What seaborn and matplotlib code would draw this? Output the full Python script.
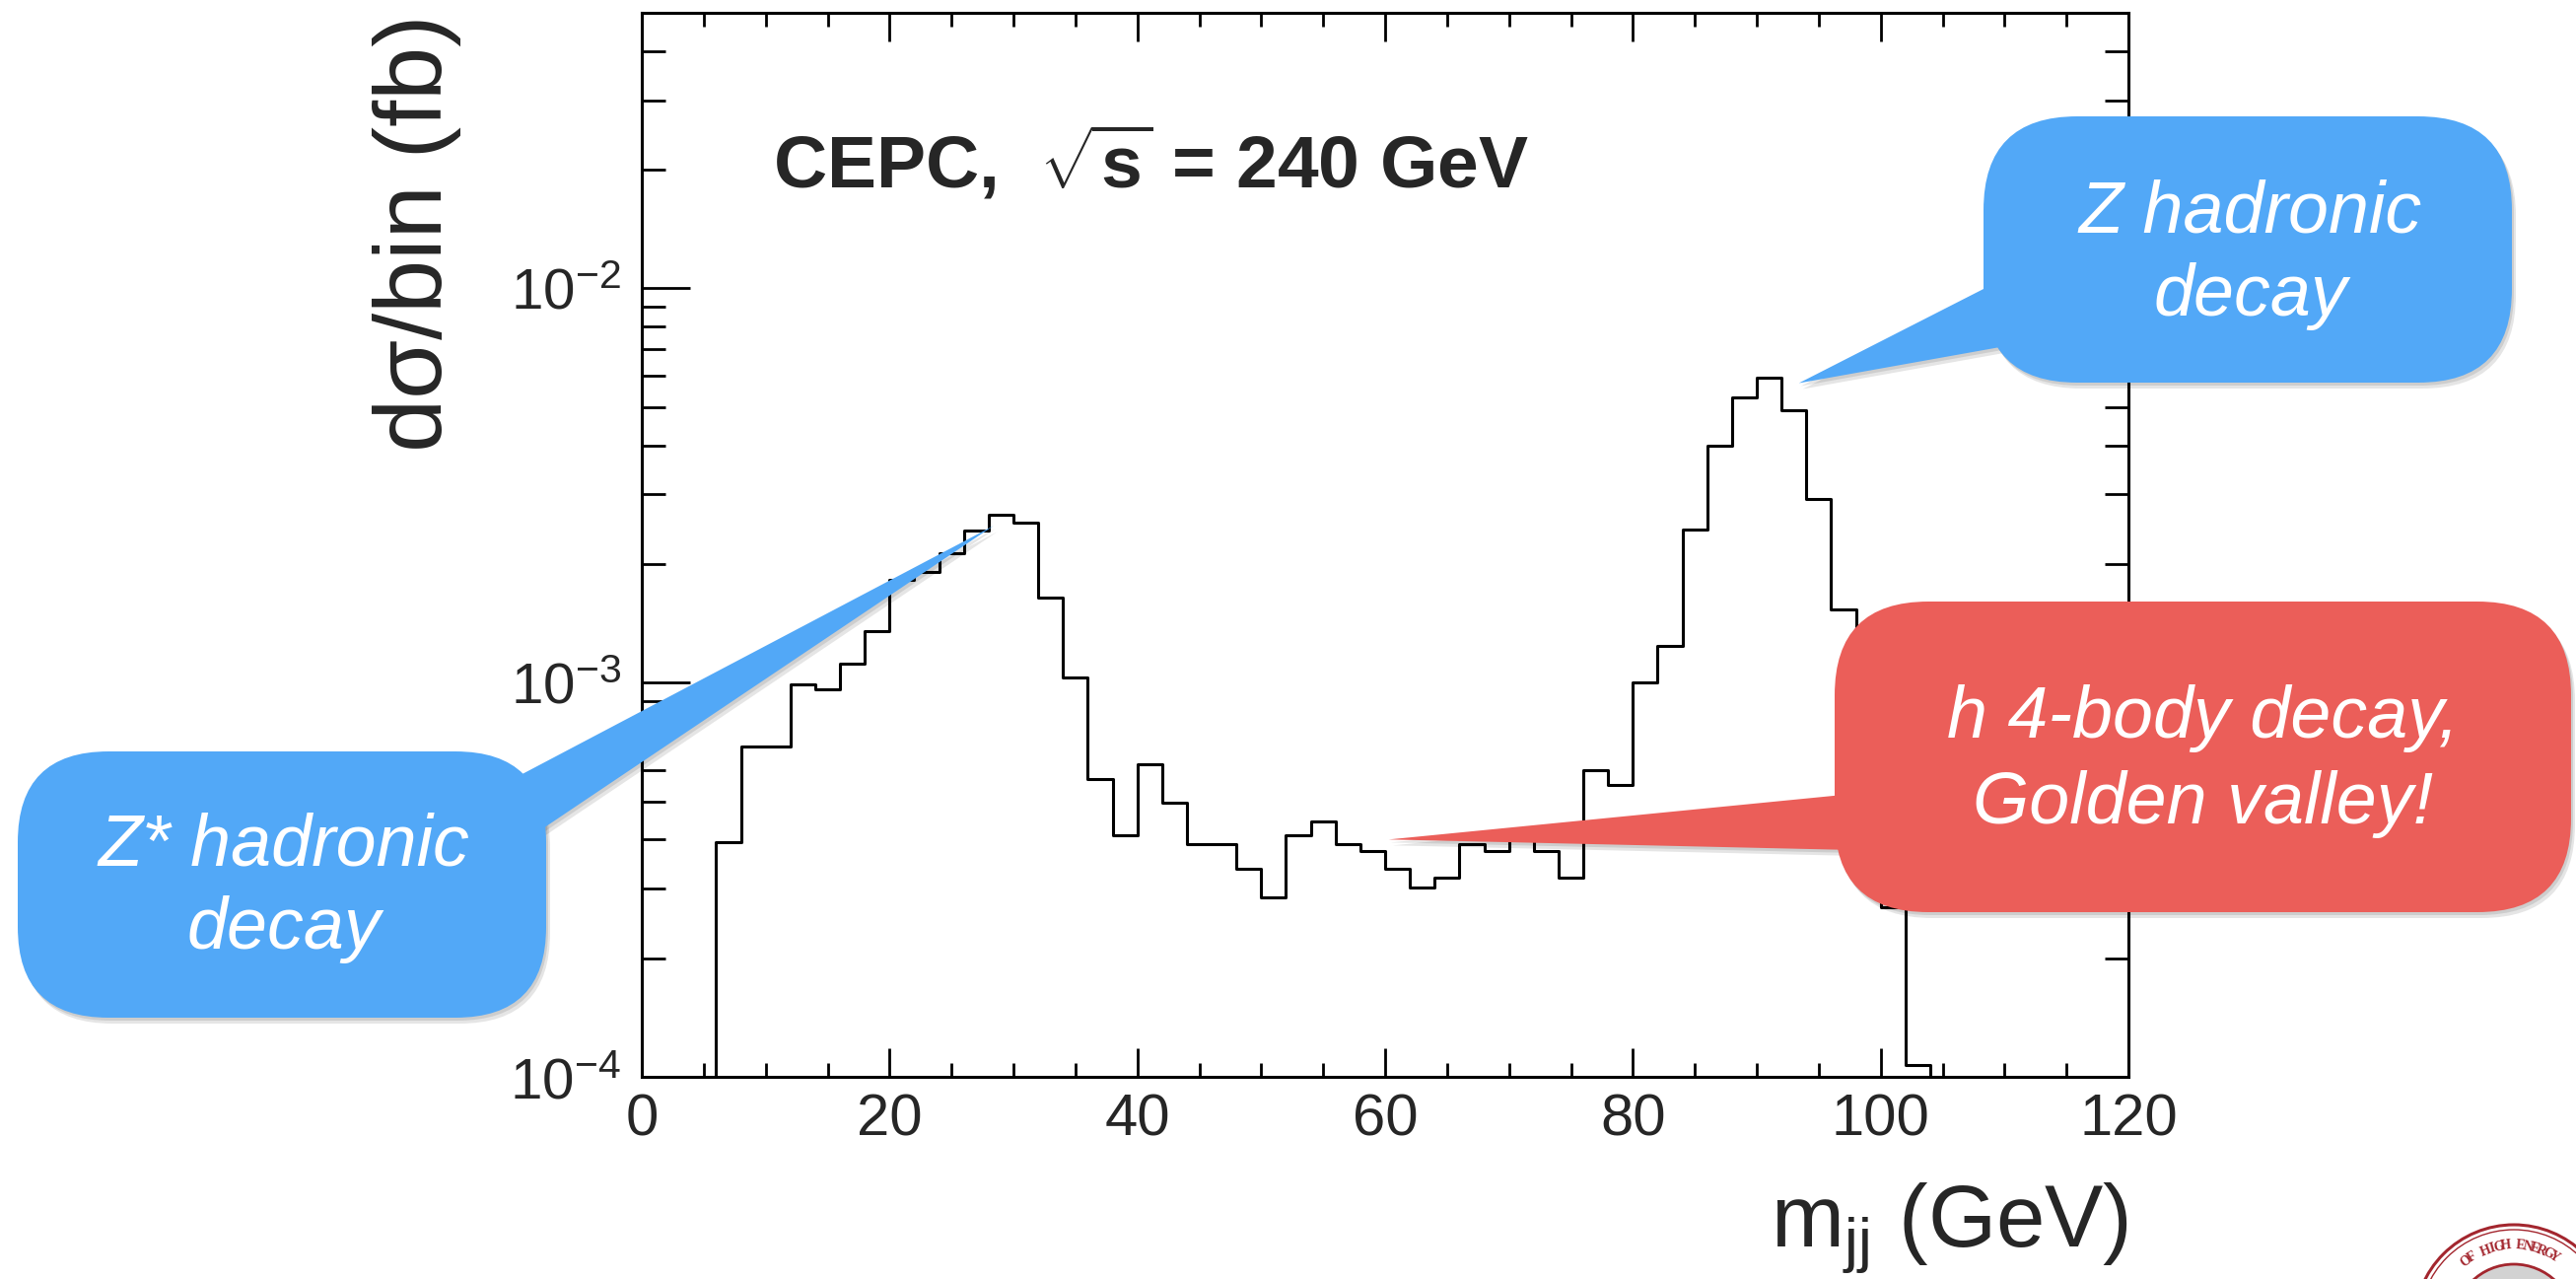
import numpy as np
import pandas as pd
import matplotlib
matplotlib.use("Agg")
import matplotlib.pyplot as plt
import seaborn as sns
from matplotlib.patches import FancyBboxPatch, Polygon, Circle
from matplotlib.ticker import MultipleLocator, LogLocator, NullFormatter

# ---------------- data ----------------
bin_edges = np.arange(0, 122, 2)          # 2 GeV bins, 0 .. 120 GeV
dsigma_per_bin = [
    0.0, 0.0, 0.0,                         # 0-6
    3.93e-4, 6.9e-4, 6.9e-4, 9.9e-4, 9.6e-4,          # 6-16
    1.12e-3, 1.35e-3, 1.82e-3, 1.91e-3, 2.13e-3,      # 16-26
    2.43e-3, 2.66e-3, 2.54e-3, 1.64e-3, 1.03e-3,      # 26-36
    5.7e-4, 4.1e-4, 6.2e-4, 4.95e-4, 3.9e-4,          # 36-46
    3.9e-4, 3.38e-4, 2.85e-4, 4.1e-4, 4.45e-4,        # 46-56
    3.9e-4, 3.75e-4, 3.38e-4, 3.03e-4, 3.2e-4,        # 56-66
    3.9e-4, 3.75e-4, 4.0e-4, 3.75e-4, 3.2e-4,         # 66-76
    6.0e-4, 5.5e-4, 1.0e-3, 1.24e-3, 2.45e-3,         # 76-86
    4.0e-3, 5.3e-3, 5.95e-3, 4.9e-3, 2.93e-3,         # 86-96
    1.53e-3, 6.5e-4, 2.7e-4, 1.07e-4,                 # 96-104
    0.0, 0.0, 0.0, 0.0, 0.0, 0.0, 0.0, 0.0,           # 104-120
]
x_ticks = [0, 20, 40, 60, 80, 100, 120]
header_text = r"CEPC,  $\sqrt{\mathbf{s}}$ = 240 GeV"
y_label = "dσ/bin (fb)"
x_label = r"m$_{\mathrm{jj}}$ (GeV)"

# annotation texts and the (GeV, dσ) points they point at
z_lines = ["Z hadronic", "decay"]
z_tip = (93.4, 5.75e-3)
zstar_lines = ["Z* hadronic", "decay"]
zstar_tip = (28.4, 2.5e-3)
h_lines = ["h 4-body decay,", "Golden valley!"]
h_tip = (60.3, 4.0e-4)

# step outline: each bin edge carries the content of the bin to its right
df = pd.DataFrame({"edge": bin_edges,
                   "content": list(dsigma_per_bin) + [dsigma_per_bin[-1]]})

# ---------------- style ----------------
sns.set_style("ticks")
plt.rcParams["font.family"] = ["Liberation Sans", "DejaVu Sans"]
plt.rcParams["mathtext.fontset"] = "custom"
plt.rcParams["mathtext.rm"] = "Liberation Sans"
plt.rcParams["mathtext.it"] = "Liberation Sans:italic"
plt.rcParams["mathtext.bf"] = "Liberation Sans:bold"
plt.rcParams["axes.linewidth"] = 2.2

W, H = 2613, 1297
fig = plt.figure(figsize=(W / 100, H / 100), dpi=100)
fig.patch.set_facecolor("white")

L, R, T, B = 651, 2159, 13, 1092
ax = fig.add_axes([L / W, 1 - B / H, (R - L) / W, (B - T) / H])
sns.lineplot(data=df, x="edge", y="content", drawstyle="steps-post",
             estimator=None, sort=False, color="black", linewidth=2.2, ax=ax)
ax.set_yscale("log", nonpositive="clip")
ax.set_xlim(0, 120)
ax.set_ylim(1e-4, 0.05)
ax.set_xlabel("")
ax.set_ylabel("")

ax.xaxis.set_major_locator(MultipleLocator(20))
ax.xaxis.set_minor_locator(MultipleLocator(5))
ax.set_xticks(x_ticks)
ax.yaxis.set_major_locator(LogLocator(base=10, numticks=10))
ax.yaxis.set_minor_locator(LogLocator(base=10, subs=np.arange(2, 10), numticks=100))
ax.yaxis.set_minor_formatter(NullFormatter())

ax.tick_params(which="both", direction="in", top=True, right=True, width=2.0,
               color="black")
ax.tick_params(axis="x", which="major", length=21, labelsize=43, pad=12)
ax.tick_params(axis="x", which="minor", length=10)
ax.tick_params(axis="y", which="major", length=35, labelsize=42, pad=15)
ax.tick_params(axis="y", which="minor", length=17)
for s in ax.spines.values():
    s.set_visible(True)
    s.set_linewidth(2.2)
    s.set_color("black")

# axis titles (ROOT style, aligned to the ends of the axes)
fig.text(448 / W, 1 - 15 / H, y_label, rotation=90, rotation_mode="anchor",
         ha="right", va="baseline", fontsize=70)
fig.text(R / W, 1 - 1264 / H, x_label, ha="right", va="baseline", fontsize=64)

# header
fig.text(784 / W, 1 - 190 / H, header_text, ha="left", va="baseline",
         fontsize=54, fontweight="bold")

# ---------------- callout bubbles (overlay in pixel coords) ----------------
ov = fig.add_axes([0, 0, 1, 1], zorder=10)
ov.set_xlim(0, W)
ov.set_ylim(H, 0)
ov.axis("off")
ov.patch.set_visible(False)

fig.canvas.draw()


def to_px(pt):
    dx, dy = ax.transData.transform(pt)
    return (dx, H - dy)


def bubble(box, rad, base, tip_data, color, lines, baselines, cx):
    x0, y0, x1, y1 = box
    tip = to_px(tip_data)
    tri = [base[0], base[1], tip]
    off = (4, 6)
    for k, a in ((1.0, 0.10), (0.5, 0.10)):
        ov.add_patch(Polygon([(p[0] + off[0] * k, p[1] + off[1] * k) for p in tri],
                             closed=True, facecolor="black", edgecolor="none",
                             alpha=a, zorder=1))
        ov.add_patch(FancyBboxPatch((x0 + off[0] * k, y0 + off[1] * k), x1 - x0, y1 - y0,
                                    boxstyle=f"round,pad=0,rounding_size={rad}",
                                    facecolor="black", edgecolor="none", alpha=a,
                                    zorder=1))
    ov.add_patch(Polygon(tri, closed=True, facecolor=color, edgecolor="none",
                         zorder=2))
    ov.add_patch(FancyBboxPatch((x0, y0), x1 - x0, y1 - y0,
                                boxstyle=f"round,pad=0,rounding_size={rad}",
                                facecolor=color, edgecolor="none", zorder=3))
    for txt, yb in zip(lines, baselines):
        ov.text(cx, yb, txt, ha="center", va="baseline", color="white",
                fontsize=53, fontstyle="italic", zorder=4)


blue = "#52A8F7"
red = "#EB5E59"
bubble((2012, 118, 2548, 388), 95, [(2014, 292), (2040, 350)], z_tip, blue,
       z_lines, [235, 320], 2283)
bubble((18, 762, 554, 1032), 92, [(505, 798), (548, 842)], zstar_tip, blue,
       zstar_lines, [877, 962], 288)
bubble((1861, 610, 2608, 925), 95, [(1870, 806), (1880, 862)], h_tip, red,
       h_lines, [748, 835], 2235)

# ---------------- partial institute seal (bottom right corner) ----------------
cxl, cyl = 2550, 1343
seal = "#A3262E"
ov.add_patch(Circle((cxl, cyl), 61, facecolor="#d2d2d2", edgecolor=seal,
                    linewidth=2.0, zorder=2))
ov.add_patch(Circle((cxl, cyl), 101, facecolor="none", edgecolor=seal,
                    linewidth=2.2, zorder=2))
ov.add_patch(Circle((cxl, cyl), 96, facecolor="none", edgecolor=seal,
                    linewidth=1.0, zorder=2))
seal_text = "OF HIGH ENERGY"
n = len(seal_text)
step = 5.2
for i, ch in enumerate(seal_text):
    ang = 93 + (n / 2 - i - 0.5) * step
    rr = 80
    px = cxl + rr * np.cos(np.radians(ang))
    py = cyl - rr * np.sin(np.radians(ang))
    ov.text(px, py, ch, rotation=ang - 90, ha="center", va="center",
            fontsize=10, color=seal, fontweight="bold",
            family=["Liberation Serif", "DejaVu Serif"], zorder=3)

fig.savefig("out.png", dpi=100, facecolor="white")
